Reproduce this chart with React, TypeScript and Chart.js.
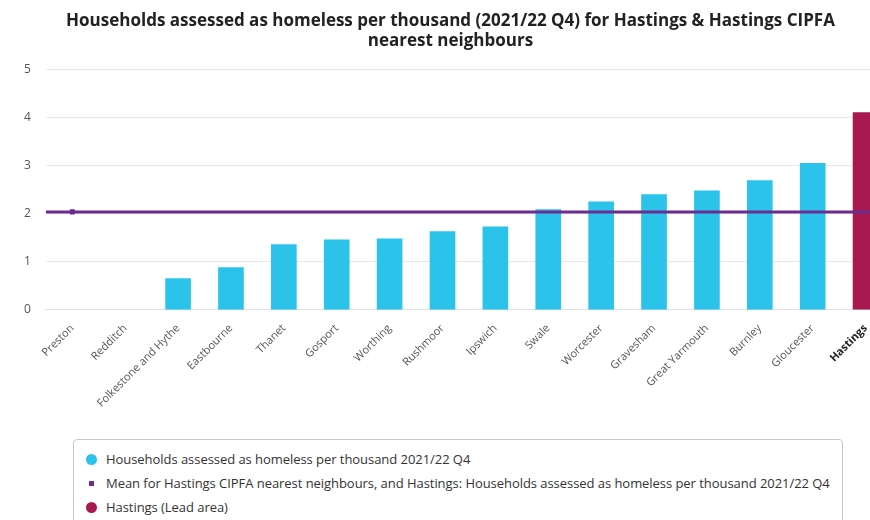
import React, { useEffect, useRef } from "react";
import { Chart, registerables } from "chart.js";

Chart.register(...registerables);

const categories = [
  "Preston",
  "Redditch",
  "Folkestone and Hythe",
  "Eastbourne",
  "Thanet",
  "Gosport",
  "Worthing",
  "Rushmoor",
  "Ipswich",
  "Swale",
  "Worcester",
  "Gravesham",
  "Great Yarmouth",
  "Burnley",
  "Gloucester",
  "Hastings",
];
const leadArea = "Hastings";
const comparatorValues = [
  null, null, 0.65, 0.88, 1.36, 1.46, 1.48, 1.63, 1.73, 2.09, 2.25, 2.4, 2.48, 2.69, 3.05, null,
];
const leadValues = [
  null, null, null, null, null, null, null, null, null, null, null, null, null, null, null, 4.11,
];
const meanValue = 2.04;
const yTickValues = [0, 1, 2, 3, 4, 5];
const titleLines = [
  "Households assessed as homeless per thousand (2021/22 Q4) for Hastings & Hastings CIPFA",
  "nearest neighbours",
];
const seriesLabels = [
  "Households assessed as homeless per thousand 2021/22 Q4",
  "Mean for Hastings CIPFA nearest neighbours, and Hastings: Households assessed as homeless per thousand 2021/22 Q4",
  "Hastings (Lead area)",
];

const BLUE = "#2cc3ea";
const PURPLE = "#6c2d91";
const CRIMSON = "#a8194f";
const FONT = "'Open Sans', 'Noto Sans', sans-serif";

const meanExtend = {
  id: "meanExtend",
  afterDatasetsDraw(chart: any) {
    const meta = chart.getDatasetMeta(0);
    if (!meta || !meta.data.length) return;
    const { ctx, chartArea, scales } = chart;
    const y = scales.y.getPixelForValue(meanValue);
    const first = meta.data[0].x;
    const last = meta.data[meta.data.length - 1].x;
    ctx.save();
    ctx.strokeStyle = PURPLE;
    ctx.lineWidth = 3;
    ctx.beginPath();
    ctx.moveTo(chartArea.left, y);
    ctx.lineTo(first, y);
    ctx.moveTo(last, y);
    ctx.lineTo(chartArea.right, y);
    ctx.stroke();
    ctx.restore();
  },
};

export default function App() {
  const canvasRef = useRef<HTMLCanvasElement | null>(null);

  useEffect(() => {
    document.documentElement.style.overflow = "hidden";
    const leadIndex = categories.indexOf(leadArea);
    const chart = new Chart(canvasRef.current as HTMLCanvasElement, {
      type: "bar",
      data: {
        labels: categories,
        datasets: [
          {
            type: "line",
            label: seriesLabels[1],
            data: categories.map(() => meanValue),
            borderColor: PURPLE,
            backgroundColor: PURPLE,
            borderWidth: 3,
            pointStyle: "rect",
            pointBorderWidth: 1,
            pointRadius: (ctx: any) => (ctx.dataIndex === 0 ? 3 : 0),
            pointHoverRadius: 0,
            fill: false,
          } as any,
          {
            type: "bar",
            label: seriesLabels[0],
            data: comparatorValues,
            backgroundColor: BLUE,
            barThickness: 25,
            grouped: false,
          } as any,
          {
            type: "bar",
            label: seriesLabels[2],
            data: leadValues,
            backgroundColor: CRIMSON,
            barThickness: 25,
            grouped: false,
          } as any,
        ],
      },
      options: {
        responsive: false,
        animation: false,
        layout: { padding: { left: 1, right: 16, top: 0, bottom: 0 } },
        plugins: {
          legend: { display: false },
          tooltip: { enabled: false },
          title: {
            display: true,
            text: titleLines,
            color: "#222222",
            font: { family: FONT, size: 17, weight: "bold", lineHeight: 1.2 },
            padding: { top: 3, bottom: 18 },
          },
        },
        scales: {
          x: {
            grid: { display: false },
            border: { color: "#dbe2ee", width: 1 },
            afterFit: (scale: any) => {
              scale.paddingLeft = 0;
              scale.paddingRight = 0;
            },
            ticks: {
              autoSkip: false,
              minRotation: 45,
              maxRotation: 45,
              padding: 4,
              color: (ctx: any) => (ctx.index === leadIndex ? "#222222" : "#555555"),
              font: (ctx: any) => ({
                family: FONT,
                size: 11,
                weight: ctx.index === leadIndex ? "bold" : "normal",
              }),
            },
          },
          y: {
            min: yTickValues[0],
            max: yTickValues[yTickValues.length - 1],
            grid: { color: "#e8e8e8", drawTicks: false },
            border: { display: false },
            afterBuildTicks: (axis: any) => {
              axis.ticks = yTickValues.map((v) => ({ value: v }));
            },
            ticks: {
              padding: 15,
              color: "#555555",
              font: { family: FONT, size: 12 },
            },
          },
        },
      },
      plugins: [meanExtend],
    });
    return () => chart.destroy();
  }, []);

  const markers = [
    <span key="m0" style={{ display: "inline-block", width: 11, height: 11, borderRadius: "50%", background: BLUE }} />,
    <span key="m1" style={{ display: "inline-block", width: 5, height: 5, background: PURPLE }} />,
    <span key="m2" style={{ display: "inline-block", width: 11, height: 11, borderRadius: "50%", background: CRIMSON }} />,
  ];

  return (
    <div style={{ position: "fixed", left: 8, top: 8, width: 900, background: "#ffffff" }}>
      <canvas ref={canvasRef} width={900} height={406} style={{ display: "block" }} />
      <div
        style={{
          marginTop: 25,
          marginLeft: 65,
          width: 770,
          boxSizing: "border-box",
          border: "1px solid #c8c8c8",
          borderRadius: 4,
          padding: "7px 12px 10px 12px",
          fontFamily: FONT,
          fontSize: 13,
          letterSpacing: "-0.05px",
          color: "#333333",
        }}
      >
        {seriesLabels.map((label, i) => (
          <div key={label} style={{ display: "flex", alignItems: "center", height: 24, whiteSpace: "nowrap" }}>
            <span
              style={{
                width: 11,
                flexShrink: 0,
                display: "flex",
                justifyContent: "center",
                alignItems: "center",
                marginRight: 9,
              }}
            >
              {markers[i]}
            </span>
            <span>{label}</span>
          </div>
        ))}
      </div>
    </div>
  );
}
